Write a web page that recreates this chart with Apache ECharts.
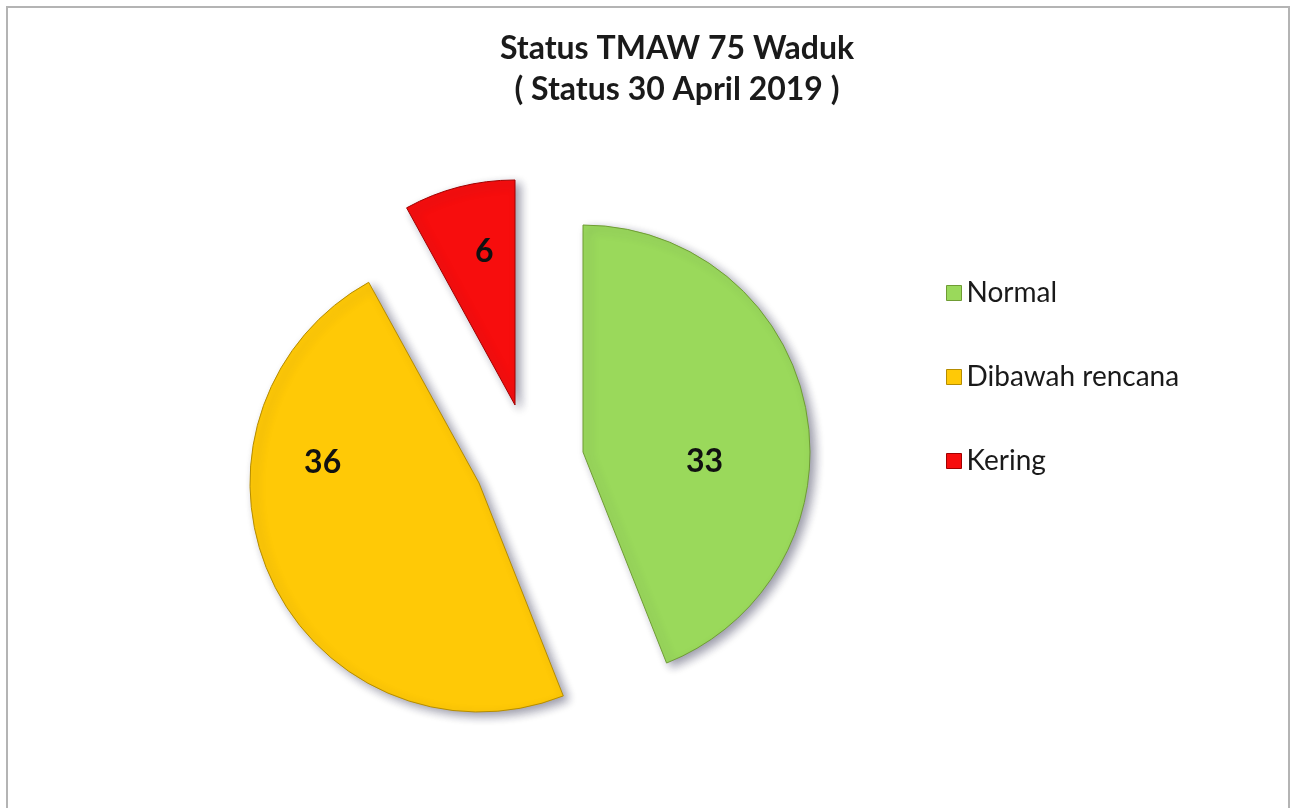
<!DOCTYPE html>
<html>
<head>
<meta charset="utf-8">
<script src="https://cdn.jsdelivr.net/npm/echarts@6/dist/echarts.min.js"></script>
<style>
html,body{margin:0;padding:0;background:#fff;}
#chart{width:1293px;height:808px;}
</style>
</head>
<body>
<div id="chart"></div>
<script>
const categories = ['Normal', 'Dibawah rencana', 'Kering'];
const values = [33, 36, 6];
const titleLines = ['Status TMAW 75 Waduk', '( Status 30 April 2019 )'];

const colors = ['#9ad95b', '#ffc906', '#f70d0d'];
const borders = ['#6f9c34', '#b58c00', '#a00000'];
const centers = [[583, 452], [479, 483], [515, 405]];
const radii = [227, 229, 225];
const labelOffsets = [[7, 32], [-50, -70], [-2, -41]];

const chart = echarts.init(document.getElementById('chart'), null, {renderer: 'canvas'});

const series = categories.map((cat, i) => ({
  type: 'pie',
  center: centers[i],
  radius: [0, radii[i]],
  startAngle: 90,
  clockwise: true,
  avoidLabelOverlap: false,
  silent: true,
  label: {
    show: true,
    position: 'inside',
    formatter: '{c}',
    fontFamily: 'Lato',
    fontWeight: 'bold',
    fontSize: 32,
    color: '#111',
    offset: labelOffsets[i]
  },
  labelLine: {show: false},
  data: categories.map((name, j) => ({
    name: name,
    value: values[j],
    itemStyle: j === i ? {
      color: colors[j],
      borderColor: borders[j],
      borderWidth: 1,
      shadowBlur: 10,
      shadowOffsetX: 5,
      shadowOffsetY: 4,
      shadowColor: 'rgba(40,40,70,0.45)'
    } : {color: 'rgba(0,0,0,0)', borderWidth: 0, shadowBlur: 0},
    label: {show: j === i}
  }))
}));

chart.setOption({
  animation: false,
  title: {
    text: titleLines.join('\n'),
    left: 672,
    top: 23,
    textAlign: 'center',
    textStyle: {
      fontFamily: 'Lato',
      fontWeight: 'bold',
      fontSize: 32,
      lineHeight: 41,
      color: '#1a1a1a'
    }
  },
  legend: {
    orient: 'vertical',
    left: 941,
    top: 274,
    itemWidth: 15,
    itemHeight: 15,
    itemGap: 56,
    icon: 'rect',
    textStyle: {fontFamily: 'Lato', fontSize: 28, lineHeight: 28, color: '#1a1a1a', padding: [0, 0, 0, 0]},
    data: categories.map((name, j) => ({name: name, itemStyle: {color: colors[j], borderColor: borders[j], borderWidth: 1}}))
  },
  graphic: [{
    type: 'rect',
    shape: {x: 7, y: 7, width: 1282, height: 830},
    style: {fill: 'none', stroke: '#b4b4b4', lineWidth: 2},
    silent: true
  }],
  series: series
});
</script>
</body>
</html>
